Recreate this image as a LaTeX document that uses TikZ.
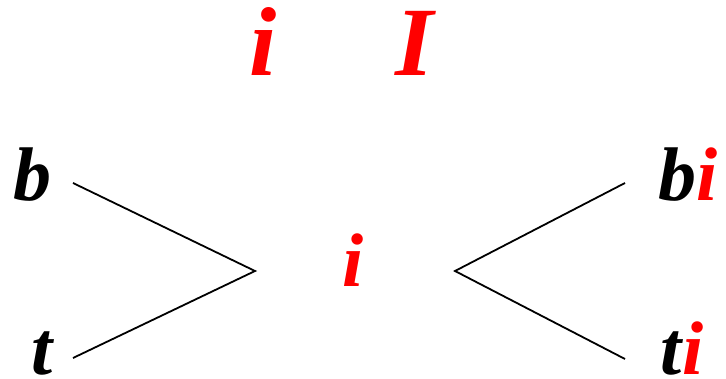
\documentclass[tikz,border=0pt]{standalone}
\usepackage{fontspec}
\setmainfont{Liberation Serif}
\definecolor{myred}{RGB}{255,0,0}
\tikzset{
  lbl/.style={inner sep=0pt, anchor=base, font=\fontsize{76}{76}\selectfont\bfseries\itshape},
  toplbl/.style={inner sep=0pt, anchor=base, text=myred, font=\fontsize{98}{98}\selectfont\bfseries\itshape},
  conn/.style={line width=1.8pt, black}
}
\begin{document}
\begin{tikzpicture}[x=1pt,y=-1pt]
\useasboundingbox (0,0) rectangle (726,379);
\node[toplbl] (ti1) at (263,76) {i};
\node[toplbl] (tI) at (415,76) {I};
\node[lbl] (b) at (32,201) {b};
\node[lbl] (t) at (42,374) {t};
\node[lbl, text=myred] (c) at (353,287) {i};
\node[lbl] (bi) at (688,201) {b\textcolor{myred}{i}};
\node[lbl] (ti) at (682,374) {t\textcolor{myred}{i}};
\coordinate (bL) at (73,183);
\coordinate (tL) at (73,358);
\coordinate (aL) at (255,271);
\coordinate (aR) at (455,271);
\coordinate (bR) at (625,183);
\coordinate (tR) at (625,359);
\draw[conn] (bL) -- (aL) -- (tL);
\draw[conn] (bR) -- (aR) -- (tR);
\end{tikzpicture}
\end{document}
